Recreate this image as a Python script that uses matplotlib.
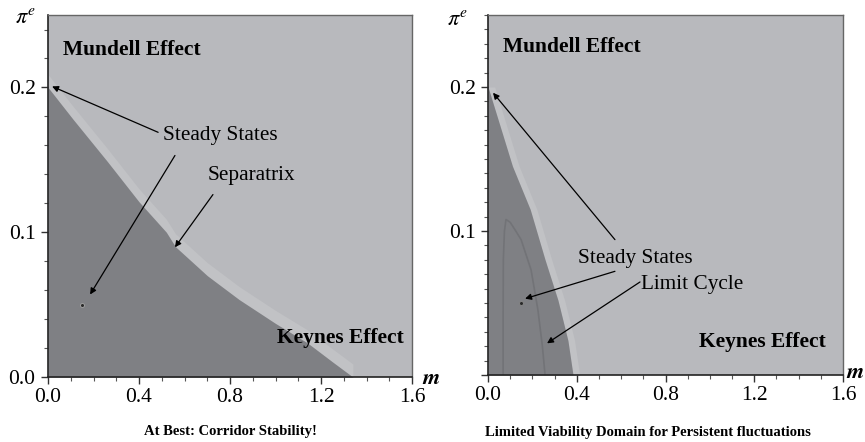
import matplotlib
matplotlib.use("Agg")
import matplotlib.pyplot as plt
from matplotlib.ticker import MultipleLocator, FixedLocator

plt.rcParams['font.family'] = ['Liberation Serif', 'DejaVu Serif']
plt.rcParams['mathtext.fontset'] = 'stix'

# separatrix of the left panel (m, pi^e)
sep_m = [0, 0.11, 0.26, 0.40, 0.52, 0.56, 0.70, 0.84, 1.00, 1.14, 1.25, 1.34]
sep_pi = [0.200, 0.178, 0.149, 0.121, 0.100, 0.090, 0.070, 0.0535, 0.037, 0.0236, 0.0105, 0.0]

# edge of the viability domain in the right panel, given as m for each pi^e
dom_pi = [0.200, 0.145, 0.115, 0.080, 0.052, 0.024, 0.0]
dom_m = [0.0, 0.11, 0.19, 0.257, 0.315, 0.36, 0.383]

# limit cycle (right panel)
cyc_m = [0.068, 0.068, 0.069, 0.074, 0.081, 0.100, 0.125, 0.149, 0.194, 0.225, 0.245, 0.257, 0.260]
cyc_pi = [-0.01, 0.040, 0.080, 0.100, 0.108, 0.106, 0.100, 0.094, 0.073, 0.045, 0.020, 0.0, -0.01]

steady = (0.15, 0.05)

x_ticks = [0.0, 0.4, 0.8, 1.2, 1.6]
x_labels = ['0.0', '0.4', '0.8', '1.2', '1.6']
y_ticks = [0.0, 0.1, 0.2]

DARK = '#7f8084'
MID = '#b8b9bd'
BAND = '#c1c2c5'

fig = plt.figure(figsize=(8.65, 4.42), dpi=100)
ax1 = fig.add_axes([0.0555, 0.147, 0.4208, 0.819])
ax2 = fig.add_axes([0.5642, 0.1516, 0.4104, 0.8145])

arrow = dict(arrowstyle='-|>', lw=0.9, color='black', mutation_scale=9,
             shrinkA=0, shrinkB=0)


def style(ax, ymin_step, ylabels):
    ax.set_xlim(0, 1.6)
    ax.set_ylim(0, 0.25)
    ax.set_facecolor(MID)
    ax.xaxis.set_major_locator(FixedLocator(x_ticks))
    ax.xaxis.set_minor_locator(MultipleLocator(0.1))
    ax.yaxis.set_major_locator(FixedLocator(y_ticks))
    ax.yaxis.set_minor_locator(MultipleLocator(ymin_step))
    ax.set_xticklabels(x_labels)
    ax.set_yticklabels(ylabels)
    ax.tick_params(which='major', direction='out', length=5, width=1,
                   color='#333333', labelsize=15.5, pad=3)
    ax.tick_params(axis='y', which='major', pad=4)
    ax.tick_params(which='minor', direction='out', length=3, width=0.8,
                   color='#555555')
    for s in ['left', 'bottom']:
        ax.spines[s].set_color('#222222')
        ax.spines[s].set_linewidth(1.2)
    for s in ['top', 'right']:
        ax.spines[s].set_color('#666666')
        ax.spines[s].set_linewidth(1.0)


# ---- left panel
style(ax1, 0.02, ['0.0', '0.1', '0.2'])
ax1.fill_between(sep_m, [p + 0.009 for p in sep_pi], sep_pi, color=BAND, lw=0)
ax1.fill_between(sep_m, 0, sep_pi, color=DARK, lw=0)
ax1.scatter([steady[0]], [steady[1]], s=8, color='#2a2a2a',
            edgecolors='#a8a8a8', linewidths=0.6, zorder=5)

ax1.text(0.066, 0.2257, 'Mundell Effect', fontsize=15.5, fontweight='bold', va='center')
ax1.text(0.505, 0.1667, 'Steady States', fontsize=15.3, va='center')
ax1.text(0.703, 0.139, 'Separatrix', fontsize=15.3, va='center')
ax1.text(1.007, 0.027, 'Keynes Effect', fontsize=15.5, fontweight='bold', va='center')

ax1.annotate('', xy=(0.018, 0.2007), xytext=(0.484, 0.169), arrowprops=arrow)
ax1.annotate('', xy=(0.185, 0.057), xytext=(0.558, 0.153), arrowprops=arrow)
ax1.annotate('', xy=(0.558, 0.0896), xytext=(0.725, 0.126), arrowprops=arrow)

ax1.text(-0.063, 0.99, r'$\pi^e$', transform=ax1.transAxes, fontsize=16,
         ha='center', va='center')
ax1.text(1.052, -0.008, r'$\boldsymbol{m}$', transform=ax1.transAxes,
         fontsize=16, ha='center', va='center')
ax1.text(0.5, -0.15, 'At Best: Corridor Stability!', transform=ax1.transAxes,
         fontsize=10.5, fontweight='bold', ha='center', va='center')

# ---- right panel
style(ax2, 0.01, ['', '0.1', '0.2'])
ax2.fill_betweenx(dom_pi, dom_m, [m + 0.03 for m in dom_m], color=BAND, lw=0)
ax2.fill_betweenx(dom_pi, 0, dom_m, color=DARK, lw=0)
ax2.plot(cyc_m, cyc_pi, color='#727377', lw=1.2)
ax2.scatter([steady[0]], [steady[1]], s=8, color='#2a2a2a',
            edgecolors='#8a8a8a', linewidths=0.6, zorder=5)

ax2.text(0.068, 0.228, 'Mundell Effect', fontsize=15.5, fontweight='bold', va='center')
ax2.text(0.406, 0.081, 'Steady States', fontsize=15.3, va='center')
ax2.text(0.689, 0.063, 'Limit Cycle', fontsize=15.3, va='center')
ax2.text(0.951, 0.023, 'Keynes Effect', fontsize=15.5, fontweight='bold', va='center')

ax2.annotate('', xy=(0.0225, 0.196), xytext=(0.572, 0.094), arrowprops=arrow)
ax2.annotate('', xy=(0.167, 0.053), xytext=(0.572, 0.072), arrowprops=arrow)
ax2.annotate('', xy=(0.266, 0.022), xytext=(0.685, 0.0646), arrowprops=arrow)

ax2.text(-0.085, 0.985, r'$\pi^e$', transform=ax2.transAxes, fontsize=16,
         ha='center', va='center')
ax2.text(1.034, 0.004, r'$\boldsymbol{m}$', transform=ax2.transAxes,
         fontsize=16, ha='center', va='center')
ax2.text(0.45, -0.16, 'Limited Viability Domain for Persistent fluctuations',
         transform=ax2.transAxes, fontsize=10.5, fontweight='bold',
         ha='center', va='center')

fig.savefig('out.png', dpi=100)
